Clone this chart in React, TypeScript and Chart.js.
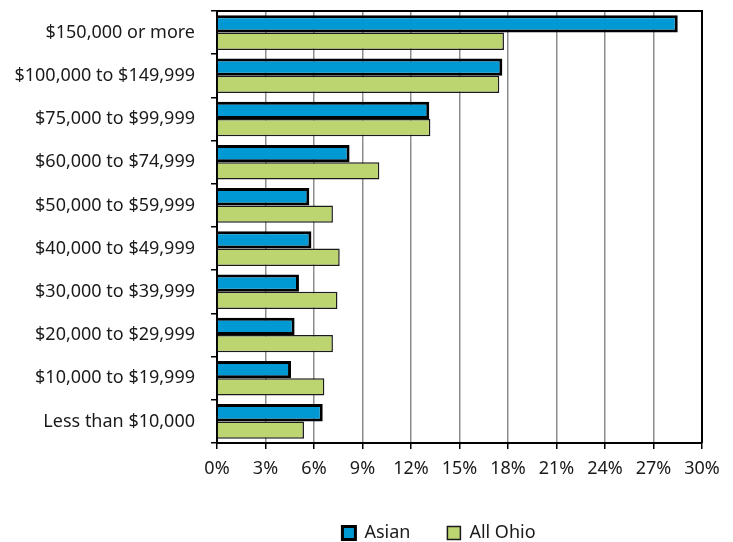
import React, { useEffect, useRef } from "react";
import { Chart, registerables } from "chart.js";

Chart.register(...registerables);

const categories = [
  "$150,000 or more",
  "$100,000 to $149,999",
  "$75,000 to $99,999",
  "$60,000 to $74,999",
  "$50,000 to $59,999",
  "$40,000 to $49,999",
  "$30,000 to $39,999",
  "$20,000 to $29,999",
  "$10,000 to $19,999",
  "Less than $10,000",
];
const asianValues = [28.5, 17.65, 13.13, 8.2, 5.71, 5.84, 5.07, 4.8, 4.58, 6.54];
const ohioValues = [17.75, 17.46, 13.2, 10.04, 7.17, 7.59, 7.45, 7.17, 6.64, 5.38];
const seriesNames = ["Asian", "All Ohio"];
const xMin = 0;
const xMax = 30;
const xStep = 3;

const FONT = "'Noto Sans'";
const TEXT = "#1a1a1a";
const FS = 18;

const frame = {
  id: "frame",
  afterDatasetsDraw(chart: any) {
    const { ctx, chartArea } = chart;
    ctx.save();
    ctx.strokeStyle = "#000";
    ctx.lineWidth = 2;
    ctx.beginPath();
    ctx.moveTo(chartArea.left, chartArea.top);
    ctx.lineTo(chartArea.right, chartArea.top);
    ctx.lineTo(chartArea.right, chartArea.bottom);
    ctx.stroke();
    ctx.restore();
  },
  afterLayout(chart: any) {
    const lg = chart.legend;
    if (lg) {
      lg.left += 88;
      lg.right += 88;
    }
  },
};

export default function App() {
  const ref = useRef<HTMLCanvasElement>(null);
  useEffect(() => {
    document.body.style.margin = "0";
    const chart = new Chart(ref.current!, {
      type: "bar",
      data: {
        labels: categories,
        datasets: [
          {
            label: seriesNames[0],
            data: asianValues,
            backgroundColor: "#0099d3",
            borderColor: "#000",
            borderWidth: 3,
            categoryPercentage: 0.8,
            barPercentage: 1.0,
          },
          {
            label: seriesNames[1],
            data: ohioValues,
            backgroundColor: "#bdd570",
            borderColor: "#1a1a1a",
            borderWidth: 1.5,
            categoryPercentage: 0.8,
            barPercentage: 1.0,
          },
        ],
      },
      options: {
        indexAxis: "y",
        animation: false,
        responsive: true,
        maintainAspectRatio: false,
        layout: { padding: { top: 11, right: 31, left: 0, bottom: -10 } },
        plugins: {
          tooltip: { enabled: false },
          legend: {
            position: "bottom",
            labels: {
              boxWidth: 13,
              boxHeight: 13,
              padding: 37,
              color: TEXT,
              font: { family: FONT, size: FS },
            },
          },
        },
        scales: {
          x: {
            min: xMin,
            max: xMax,
            ticks: {
              stepSize: xStep,
              color: TEXT,
              padding: 9,
              font: { family: FONT, size: FS },
              callback: (v: any) => v + "%",
            },
            grid: {
              color: "#8c8c8c",
              lineWidth: 1.5,
              tickColor: "#000",
              tickLength: 6,
            },
            border: { color: "#000", width: 2 },
            afterFit: (s: any) => {
              s.height = 44;
            },
          },
          y: {
            ticks: {
              color: TEXT,
              padding: 16,
              font: { family: FONT, size: FS },
            },
            grid: {
              drawOnChartArea: false,
              color: "#000",
              tickColor: "#000",
              tickLength: 6,
              lineWidth: 1.5,
            },
            border: { color: "#000", width: 2 },
            afterFit: (s: any) => {
              s.width = 217;
              s.paddingTop = 0;
              s.paddingBottom = 0;
            },
          },
        },
      },
      plugins: [frame],
    });
    return () => chart.destroy();
  }, []);
  return (
    <div style={{ width: 733, height: 542, position: "relative" }}>
      <canvas ref={ref} />
    </div>
  );
}
